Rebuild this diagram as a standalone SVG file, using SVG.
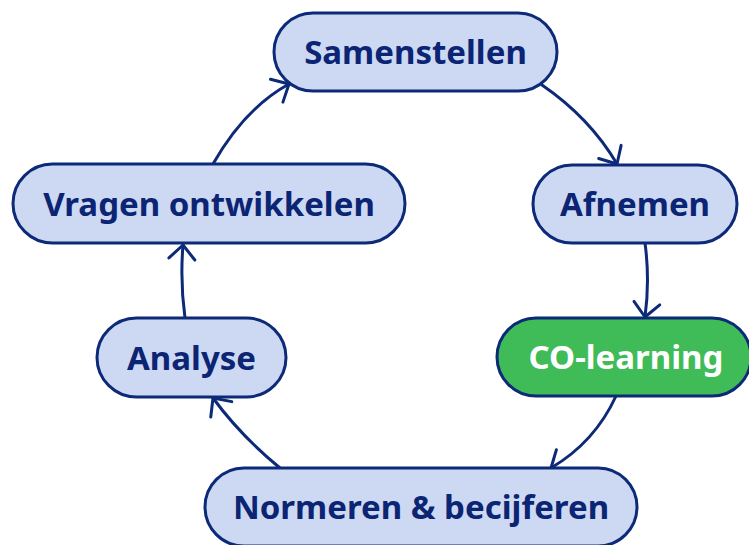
<svg xmlns="http://www.w3.org/2000/svg" width="749" height="545" viewBox="0 0 749 545">
<defs>
<style>
.node rect{fill:#cdd9f2;stroke:#0d2a78;stroke-width:3}
.node.green rect{fill:#3fbb57}
.node text{font-family:"Noto Sans","Open Sans",sans-serif;font-weight:700;font-size:33px;fill:#0b2473;text-anchor:middle}
.node.green text{fill:#ffffff}
.conn path{fill:none;stroke:#0d2a78;stroke-width:3;stroke-linecap:round}
</style>
<marker id="arr" markerUnits="userSpaceOnUse" viewBox="-20 -20 24 40" markerWidth="24" markerHeight="40" refX="0" refY="0" orient="auto">
<path d="M-14,-13 L0,0 L-14,13" fill="none" stroke="#0d2a78" stroke-width="3" stroke-linecap="round" stroke-linejoin="round"/>
</marker>
</defs>
<rect width="749" height="545" fill="#ffffff"/>
<g id="connectors" class="conn">
<path d="M213,164 Q245,108 289,84" marker-end="url(#arr)"/>
<path d="M542,85 Q590,118 617,164" marker-end="url(#arr)"/>
<path d="M645,243 Q650,280 645,317" marker-end="url(#arr)"/>
<path d="M616,396 Q595,442 551,468" marker-end="url(#arr)"/>
<path d="M280,468 Q240,435 213,398" marker-end="url(#arr)"/>
<path d="M185,318 Q180,282 183,245" marker-end="url(#arr)"/>
</g>
<g id="samenstellen" class="node">
<rect x="274" y="13" width="283" height="78" rx="39"/>
<text x="415.5" y="64">Samenstellen</text>
</g>
<g id="afnemen" class="node">
<rect x="533" y="165" width="204" height="78" rx="39"/>
<text x="635" y="216">Afnemen</text>
</g>
<g id="co-learning" class="node green">
<rect x="497" y="318" width="254" height="78" rx="39"/>
<text x="626" y="369">CO-learning</text>
</g>
<g id="normeren" class="node">
<rect x="205" y="468" width="432" height="78" rx="39"/>
<text x="421" y="519">Normeren &amp; becijferen</text>
</g>
<g id="analyse" class="node">
<rect x="97" y="318" width="189" height="79" rx="39.5"/>
<text x="191.5" y="370">Analyse</text>
</g>
<g id="vragen" class="node">
<rect x="13" y="164" width="392" height="79" rx="39.5"/>
<text x="209" y="216">Vragen ontwikkelen</text>
</g>
</svg>
